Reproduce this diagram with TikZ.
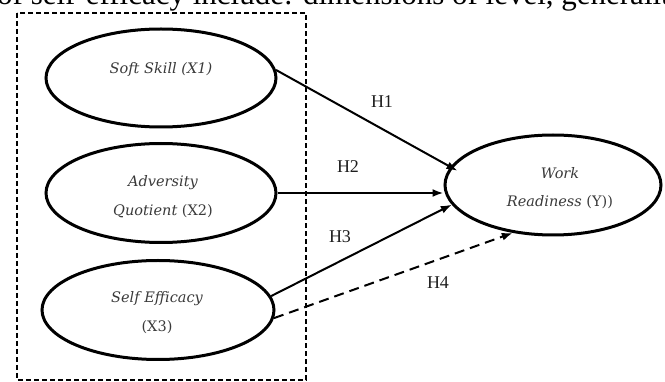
\documentclass[tikz,border=0pt]{standalone}
\usepackage{fontspec}
\setmainfont{Liberation Serif}
\newfontfamily\wideserif{DejaVu Serif}
\usetikzlibrary{shapes.geometric,arrows.meta}
\definecolor{txtgray}{HTML}{3A3A3A}
\definecolor{lblblack}{HTML}{1E1E1E}
\tikzset{
  ell/.style={ellipse, draw=black, line width=3pt, minimum width=#1, inner sep=0pt},
  ell/.default={230pt},
  etext/.style={text=txtgray, font=\wideserif\fontsize{14.5}{18}\selectfont, align=center, inner sep=0pt},
  hlabel/.style={text=lblblack, font=\fontsize{18}{20}\selectfont, inner sep=0pt},
  conn/.style={line width=2pt, -{Latex[length=11pt,width=8pt]}},
  dconn/.style={conn, dash pattern=on 10pt off 6pt},
  frame/.style={line width=1.3pt, dash pattern=on 5pt off 3pt}
}
\begin{document}
\begin{tikzpicture}[x=1pt,y=-1pt]
\useasboundingbox (0,0) rectangle (665,382);
\begin{scope}
\clip (0,0) rectangle (665,382);
\node[anchor=base west, inner sep=0pt, text=black, font=\fontsize{31}{33}\selectfont] (cap) at (-3,5) {of self-efficacy include: dimensions of level, generality};
\end{scope}
% dashed frame
\draw[frame] (17,13) rectangle (306,380);
% ellipses
\node[ell, minimum height=98pt] (x1) at (161,78) {};
\node[ell, minimum height=99pt] (x2) at (161,193) {};
\node[ell=232pt, minimum height=99pt] (x3) at (158,310) {};
\node[ell=216pt, minimum height=100pt] (y) at (553,185) {};
% texts
\node[etext] (t1) at (161,70) {\itshape Soft Skill (X1)};
\node[etext] (t2a) at (163,183) {\itshape Adversity};
\node[etext] (t2b) at (163,211) {\itshape Quotient\upshape\ (X2)};
\node[etext] (t3a) at (157,299) {\itshape Self Efficacy};
\node[etext] (t3b) at (157,327) {(X3)};
\node[etext] (tya) at (560,173) {\itshape Work};
\node[etext] (tyb) at (560,202) {\itshape Readiness\upshape\ (Y))};
% connectors
\draw[conn, shorten >=-8pt] (x1.4) -- (y.170);
\draw[conn] (x2.east) -- (x2.east -| y.west);
\draw[conn] (x3.7) -- (y.191);
\draw[dconn] (x3.356) -- (y.230);
% labels
\node[hlabel] (h1) at (382,102) {H1};
\node[hlabel] (h2) at (348,167) {H2};
\node[hlabel] (h3) at (340,237) {H3};
\node[hlabel] (h4) at (438,283) {H4};
\end{tikzpicture}
\end{document}
